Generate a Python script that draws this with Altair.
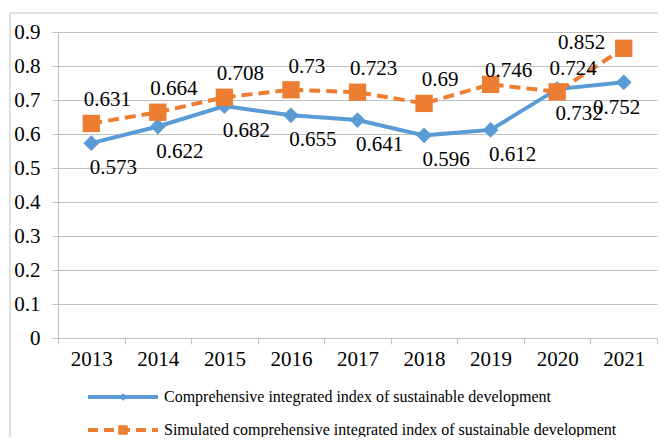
import altair as alt
import pandas as pd

years = ["2013", "2014", "2015", "2016", "2017", "2018", "2019", "2020", "2021"]
comprehensive = [0.573, 0.622, 0.682, 0.655, 0.641, 0.596, 0.612, 0.732, 0.752]
simulated = [0.631, 0.664, 0.708, 0.73, 0.723, 0.69, 0.746, 0.724, 0.852]
series_names = [
    "Comprehensive integrated index of sustainable development",
    "Simulated comprehensive integrated index of sustainable development",
]
y_ticks = [0, 0.1, 0.2, 0.3, 0.4, 0.5, 0.6, 0.7, 0.8, 0.9]

BLUE = "#5B9BD5"
ORANGE = "#ED7D31"
GRID = "#c0c0c0"
FONT = "Times New Roman, Liberation Serif, serif"

df = pd.DataFrame({
    "year": years * 2,
    "value": comprehensive + simulated,
    "series": [series_names[0]] * len(years) + [series_names[1]] * len(years),
    "label": [f"{v:g}" for v in comprehensive + simulated],
})
legend_df = pd.DataFrame({"series": series_names})

x_enc = alt.X(
    "year:N",
    scale=alt.Scale(type="band", paddingInner=0, paddingOuter=0),
    axis=alt.Axis(
        title=None, labelAngle=0, tickBand="extent", grid=False,
        domainColor=GRID, tickColor=GRID, tickSize=6, labelPadding=4,
        labelFont=FONT, labelFontSize=21, labelColor="black",
    ),
)
y_enc = alt.Y(
    "value:Q",
    scale=alt.Scale(domain=[0, 0.9], nice=False, zero=True),
    axis=alt.Axis(
        title=None, values=y_ticks, format="~g", grid=True, gridColor=GRID,
        domainColor=GRID, tickColor=GRID, tickSize=6, labelPadding=12,
        labelFont=FONT, labelFontSize=21, labelColor="black",
    ),
)

base = alt.Chart(df)
s0 = alt.datum.series == series_names[0]
s1 = alt.datum.series == series_names[1]

frame = alt.Chart(legend_df).transform_filter(s0).mark_rect(
    filled=False, stroke="#bfbfbf", strokeWidth=1
).encode(x=alt.value(-48), x2=alt.value(700), y=alt.value(-19), y2=alt.value(600))

blue_line = base.transform_filter(s0).mark_line(color=BLUE, strokeWidth=4).encode(x=x_enc, y=y_enc)
blue_pts = base.transform_filter(s0).mark_point(
    shape="diamond", filled=True, color=BLUE, size=250, opacity=1
).encode(x=x_enc, y=y_enc)
orange_line = base.transform_filter(s1).mark_line(
    color=ORANGE, strokeWidth=4, strokeDash=[11, 6]
).encode(x=x_enc, y=y_enc)
orange_pts = base.transform_filter(s1).mark_point(
    shape="square", filled=True, color=ORANGE, size=300, opacity=1
).encode(x=x_enc, y=y_enc)


def labels(cond, dx, dy):
    return base.transform_filter(cond).mark_text(
        font=FONT, fontSize=21, color="black", dx=dx, dy=dy, baseline="middle", align="center"
    ).encode(x=x_enc, y=y_enc, text="label:N")


last = alt.datum.year == "2021"
notlast = alt.datum.year != "2021"
lab = [
    labels(s0 & notlast, 22, 25),
    labels(s0 & last, -7, 26),
    labels(s1 & notlast & (alt.datum.year != "2019"), 16, -23),
    labels(s1 & (alt.datum.year == "2019"), 18, -13),
    labels(s1 & last, -42, -5),
]

leg_line0 = alt.Chart(legend_df).transform_filter(s0).mark_rule(color=BLUE, strokeWidth=4).encode(
    x=alt.value(30), x2=alt.value(100), y=alt.value(365))
leg_pt0 = alt.Chart(legend_df).transform_filter(s0).mark_point(
    shape="diamond", filled=True, color=BLUE, size=60, opacity=1).encode(x=alt.value(65), y=alt.value(365))
leg_line1 = alt.Chart(legend_df).transform_filter(s1).mark_rule(
    color=ORANGE, strokeWidth=4, strokeDash=[10, 6]).encode(
    x=alt.value(30), x2=alt.value(100), y=alt.value(398))
leg_pt1 = alt.Chart(legend_df).transform_filter(s1).mark_point(
    shape="square", filled=True, color=ORANGE, size=90, opacity=1).encode(x=alt.value(65), y=alt.value(398))
leg_text0 = alt.Chart(legend_df).transform_filter(s0).mark_text(
    font=FONT, fontSize=16, color="black", align="left", baseline="middle"
).encode(x=alt.value(106), y=alt.value(365), text="series:N")
leg_text1 = alt.Chart(legend_df).transform_filter(s1).mark_text(
    font=FONT, fontSize=16, color="black", align="left", baseline="middle"
).encode(x=alt.value(106), y=alt.value(398), text="series:N")

chart = alt.layer(
    frame, blue_line, blue_pts, orange_line, orange_pts, *lab,
    leg_line0, leg_pt0, leg_line1, leg_pt1, leg_text0, leg_text1,
).properties(
    width=599, height=306,
    autosize=alt.AutoSizeParams(type="none"),
    padding={"left": 50, "top": 24, "right": 1, "bottom": 99},
    background="white",
).configure_view(stroke=None)

chart.save("out.html", embed_options={"renderer": "svg", "actions": False})
